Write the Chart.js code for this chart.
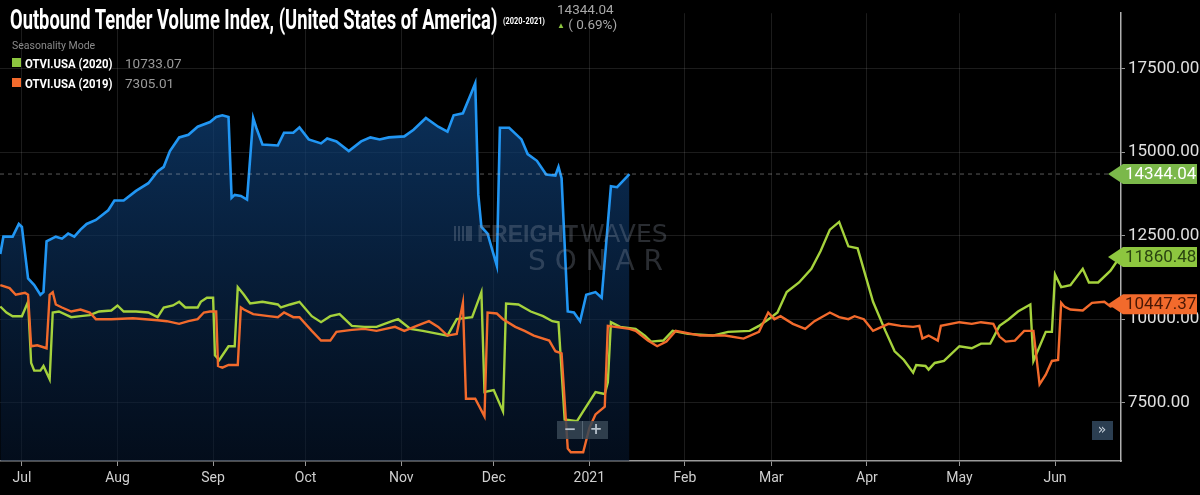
<!DOCTYPE html>
<html>
<head>
<meta charset="utf-8">
<script src="https://cdn.jsdelivr.net/npm/chart.js@4.4.0/dist/chart.umd.min.js"></script>
<style>
  body { margin: 0; background: #000; }
  #wrap { position: relative; width: 1200px; height: 495px; background: #000; overflow: hidden; }
  #wrap canvas { position: absolute; left: 0; top: 0; }
  .hdr { position: absolute; left: 10px; top: 3px; color: #fff; white-space: nowrap;
         font-family: "Roboto", sans-serif; font-weight: bold; font-size: 28px;
         transform: scaleX(0.655); transform-origin: 0 0; }
  .yr { position: absolute; left: 503px; top: 16px; color: #fff; font-family: "Roboto", sans-serif;
        font-size: 9px; font-weight: bold; transform: scaleX(0.82); transform-origin: 0 0; white-space: nowrap; }
  .cur { position: absolute; left: 557px; top: 2px; color: #a8a8a8; font-family: "Roboto", sans-serif; font-size: 13.5px; line-height: 15px; }
  .cur .up { color: #8dc63f; font-size: 8px; vertical-align: 1px; }
  .leg { position: absolute; left: 12px; top: 39px; font-family: "Roboto", sans-serif; }
  .leg .mode { color: #8a8a8a; font-size: 10.5px; height: 14px; line-height: 14px; margin-bottom: 0px; }
  .leg .row { height: 20px; line-height: 20px; white-space: nowrap; position: relative; }
  .leg .sw { position: absolute; left: 0; top: 5px; width: 9px; height: 9px; }
  .leg .nm { position: absolute; left: 13px; top: 0; color: #fff; font-weight: bold; font-size: 13.5px;
             transform: scaleX(0.84); transform-origin: 0 0; }
  .leg .v { position: absolute; left: 113px; top: 0; color: #9a9a9a; font-size: 13.5px; }
</style>
</head>
<body>
<div id="wrap">
  <canvas id="chart"></canvas>
  <div class="hdr">Outbound Tender Volume Index, (United States of America)</div>
  <div class="yr">(2020-2021)</div>
  <div class="cur">14344.04<br><span class="up">&#9650;</span> ( 0.69%)</div>
  <div class="leg">
    <div class="mode">Seasonality Mode</div>
    <div class="row"><span class="sw" style="background:#8dc63f"></span><span class="nm">OTVI.USA (2020)</span><span class="v">10733.07</span></div>
    <div class="row"><span class="sw" style="background:#f26a2c"></span><span class="nm">OTVI.USA (2019)</span><span class="v">7305.01</span></div>
  </div>
</div>
<script>
// days counted from Jul 1 2020
var monthDays = [0, 31, 62, 92, 123, 153, 184, 215, 243, 274, 304, 335];
var monthLabels = ["Jul", "Aug", "Sep", "Oct", "Nov", "Dec", "2021", "Feb", "Mar", "Apr", "May", "Jun"];
var yTicks = [7500, 10000, 12500, 15000, 17500];

// OTVI.USA current (2020-2021)
var curDays = [-7,-6,-3,-1,0,2,4,6,7,8,11,13,15,17,19,21,24,28,30,33,37,41,44,46,48,51,54,57,61,63,65,67,68,69,71,73,75,76,78,83,85,88,90,93,97,99,102,106,110,113,116,119,124,127,131,135,138,140,143,146,147,148,149,151,154,155,158,162,164,167,170,173,174,175,177,179,181,183,186,188,191,193,197];
var curVals = [11950,12470,12470,12850,12760,11220,11020,10730,10810,12330,12470,12410,12560,12470,12680,12850,12970,13260,13550,13550,13840,14070,14420,14560,15030,15440,15520,15760,15900,16050,16100,16050,13630,13720,13690,13580,16020,15730,15230,15200,15580,15580,15740,15380,15260,15410,15320,15030,15320,15440,15380,15440,15470,15670,16020,15760,15610,16100,16160,16830,17060,13720,12760,12560,11600,15730,15730,15380,14940,14740,14330,14300,14560,14220,10230,10200,9940,10730,10810,10640,13980,13950,14344.04];

// OTVI.USA (2020)
var y2020Days = [-7,-5,-3,0,2,3,4,6,7,9,10,12,16,19,22,25,29,31,33,37,41,44,46,49,51,53,57,58,60,62,62.6,64,67,69,70,72,74,78,83,84,87,90,94,97,100,103,107,111,115,120,122,126,130,135,138,141,146,149,150,153,156,157,161,165,169,172,174,176,180,182,186,189,190,191,194,199,202,204,208,211,216,224,229,236,239,243,245,248,252,256,259,262,265,268,271,276,280,283,286,289,290,293,294,296,299,304,308,311,314,317,320,323,327,328,332,334,335,337,340,344,346,349,353,356];
var y2020Vals = [10380,10200,10090,10090,10520,8690,8460,8460,8600,8200,10200,10230,10060,10090,10120,10230,10260,10410,10230,10230,10200,10060,10350,10410,10520,10350,10350,10520,10640,10640,8920,8780,9190,9190,10960,10730,10470,10520,10440,10350,10440,10520,10090,9910,10090,10150,9800,9770,9770,9940,10000,9710,9650,9560,9510,10000,10060,10810,7820,7880,7240,10470,10440,10230,10090,9940,9910,7000,6950,7240,7820,7760,8110,9910,9770,9710,9510,9330,9360,9650,9560,9510,9620,9650,9800,10060,10200,10810,11100,11510,12040,12680,12910,12180,12120,10520,9650,9040,8780,8400,8630,8600,8490,8690,8750,9190,9130,9270,9270,9800,10000,10230,10440,8750,9620,9620,11340,10960,11020,11510,11100,11100,11450,11860.48];

// OTVI.USA (2019)
var y2019Days = [-7,-4,-2,1,2,3,5,8,9,10,11,13,16,19,22,24,29,36,44,47,51,54,57,59,61,63,63.6,65,67,70,71,72,75,80,83,85,88,90,94,97,100,102,107,111,115,121,124,128,132,135,138,141,143,144,147,150,151,154,156,160,163,166,171,173,175,177,178,182,184,186,189,190,197,199,203,206,209,212,220,228,234,239,242,244,246,250,254,257,262,265,268,270,273,276,281,285,289,291,292,294,297,298,304,308,311,315,317,319,322,325,328,330,332,334,336,337,338,340,344,347,351,353,356];
var y2019Vals = [11020,10930,10730,10790,10730,9190,9220,9130,10730,10810,10440,10350,10230,10290,10200,10000,10000,10030,9970,9940,9860,9940,10000,10200,10230,10230,8600,8550,8630,8630,10350,10290,10150,10090,10060,10200,10060,10060,9650,9360,9360,9620,9680,9710,9650,9770,9650,9800,9940,9770,9510,9560,10490,7620,7620,7090,10200,10170,10000,9770,9650,9510,9360,9040,8980,6130,6020,6020,6740,7150,7380,9800,9710,9650,9360,9190,9330,9650,9510,9510,9420,9620,10200,10000,10090,9860,9710,9940,10200,10060,10000,10090,10000,9650,9860,9800,9770,9800,9420,9510,9360,9800,9910,9860,9910,9860,9480,9330,9360,9650,9650,8050,8340,8750,8780,10490,10380,10290,10260,10490,10520,10380,10447.37];

function pts(days, vals) {
  return days.map(function (d, i) { return { x: d, y: vals[i] }; });
}

var tagPlugin = {
  id: 'tags',
  afterDatasetsDraw: function (chart) {
    var ctx = chart.ctx, ca = chart.chartArea, y = chart.scales.y;
    // current value dashed line
    var yc = y.getPixelForValue(curVals[curVals.length - 1]);
    ctx.save();
    ctx.strokeStyle = 'rgba(200,200,200,0.45)';
    ctx.setLineDash([4, 4]);
    ctx.lineWidth = 1;
    ctx.beginPath(); ctx.moveTo(ca.left, yc); ctx.lineTo(ca.right - 10, yc); ctx.stroke();
    ctx.restore();

    // watermark
    ctx.save();
    ctx.textBaseline = 'alphabetic';
    ctx.fillStyle = 'rgba(140,150,165,0.3)';
    ctx.font = 'bold 23px "Liberation Sans", sans-serif';
    ctx.fillText('FREIGHT', 477, 242);
    var w = ctx.measureText('FREIGHT').width;
    ctx.font = '25px "DejaVu Sans", sans-serif';
    ctx.fillText('WAVES', 477 + w + 2, 242);
    ctx.font = '28px "DejaVu Sans", sans-serif';
    ctx.fillText('S O N A R', 528, 270);
    ctx.fillRect(454, 226, 2, 15); ctx.fillRect(458, 226, 2, 15); ctx.fillRect(462, 226, 2, 15); ctx.fillRect(466, 226, 6, 15);
    ctx.restore();

    // zoom buttons
    ctx.save();
    ctx.fillStyle = 'rgba(55,70,85,0.85)';
    ctx.fillRect(557, 421, 51, 18);
    ctx.fillStyle = 'rgba(90,105,120,0.9)';
    ctx.fillRect(582, 421, 1, 18);
    ctx.fillStyle = '#b8c2cc';
    ctx.font = 'bold 15px "DejaVu Sans", sans-serif';
    ctx.textAlign = 'center'; ctx.textBaseline = 'middle';
    ctx.fillText('\u2212', 570, 430);
    ctx.fillText('+', 596, 430);
    ctx.fillStyle = 'rgba(45,65,85,0.95)';
    ctx.fillRect(1092, 421, 21, 19);
    ctx.fillStyle = '#c8d2dc';
    ctx.font = '14px "DejaVu Sans", sans-serif';
    ctx.fillText('\u00bb', 1102, 430);
    ctx.restore();
  },
  afterDraw: function (chart) {
    var ctx = chart.ctx, ca = chart.chartArea, y = chart.scales.y;
    var tags = [
      { v: curVals[curVals.length - 1], bg: '#7bb84a', fg: '#ffffff' },
      { v: y2020Vals[y2020Vals.length - 1], bg: '#8dc63f', fg: '#2a4410' },
      { v: y2019Vals[y2019Vals.length - 1], bg: '#f26a2c', fg: '#4a1805' }
    ];
    ctx.save();
    tags.forEach(function (t) {
      var py = y.getPixelForValue(t.v);
      var x0 = ca.right - 13, x1 = ca.right + 2, x2 = 1197, h = 10;
      ctx.fillStyle = t.bg;
      ctx.beginPath();
      ctx.moveTo(x0, py);
      ctx.lineTo(x1, py - h);
      ctx.lineTo(x2, py - h);
      ctx.lineTo(x2, py + h);
      ctx.lineTo(x1, py + h);
      ctx.closePath();
      ctx.fill();
      ctx.fillStyle = t.fg;
      ctx.font = '17px "Roboto", sans-serif';
      ctx.textAlign = 'left';
      ctx.textBaseline = 'middle';
      ctx.fillText(t.v.toFixed(2), ca.right + 4, py + 1);
    });
    ctx.restore();
  }
};

var canvas = document.getElementById('chart');
var g = canvas.getContext('2d').createLinearGradient(0, 60, 0, 461);
g.addColorStop(0, 'rgba(16,70,130,0.75)');
g.addColorStop(1, 'rgba(6,24,50,0.55)');

new Chart(canvas, {
  type: 'line',
  data: {
    datasets: [
      { label: 'OTVI.USA (2019)', data: pts(y2019Days, y2019Vals), borderColor: '#f26a2c', borderWidth: 2.4, pointRadius: 0, fill: false, order: 1 },
      { label: 'OTVI.USA (2020)', data: pts(y2020Days, y2020Vals), borderColor: '#a5d23c', borderWidth: 2.4, pointRadius: 0, fill: false, order: 2 },
      { label: 'OTVI.USA', data: pts(curDays, curVals), borderColor: '#2196f3', borderWidth: 2.6, pointRadius: 0, fill: 'start', backgroundColor: g, order: 3 }
    ]
  },
  options: {
    responsive: true,
    maintainAspectRatio: false,
    animation: false,
    layout: { padding: 0 },
    plugins: { legend: { display: false }, tooltip: { enabled: false }, title: { display: false } },
    scales: {
      x: {
        type: 'linear',
        min: -7.1,
        max: 356.4,
        afterBuildTicks: function (s) { s.ticks = monthDays.map(function (d) { return { value: d }; }); },
        afterFit: function (s) { s.height = 34; },
        ticks: {
          color: '#cfcfcf',
          font: { family: 'Roboto, sans-serif', size: 14 },
          padding: 4,
          maxRotation: 0,
          autoSkip: false,
          callback: function (v) { var i = monthDays.indexOf(v); return i >= 0 ? monthLabels[i] : ''; }
        },
        grid: { color: 'rgba(255,255,255,0.11)', tickLength: 5, tickColor: '#999' },
        border: { color: '#9a9a9a', width: 1.5 }
      },
      y: {
        position: 'right',
        min: 5756,
        max: 19157,
        afterBuildTicks: function (s) { s.ticks = yTicks.map(function (v) { return { value: v }; }); },
        afterFit: function (s) { s.width = 79; },
        ticks: {
          color: '#e0e0e0',
          font: { family: 'Roboto, sans-serif', size: 17 },
          padding: 3,
          callback: function (v) { return Number(v).toFixed(2); }
        },
        grid: { color: 'rgba(255,255,255,0.11)', tickLength: 4, tickColor: '#999' },
        border: { color: '#b0b0b0', width: 1.5 }
      }
    }
  },
  plugins: [tagPlugin]
});
</script>
</body>
</html>
